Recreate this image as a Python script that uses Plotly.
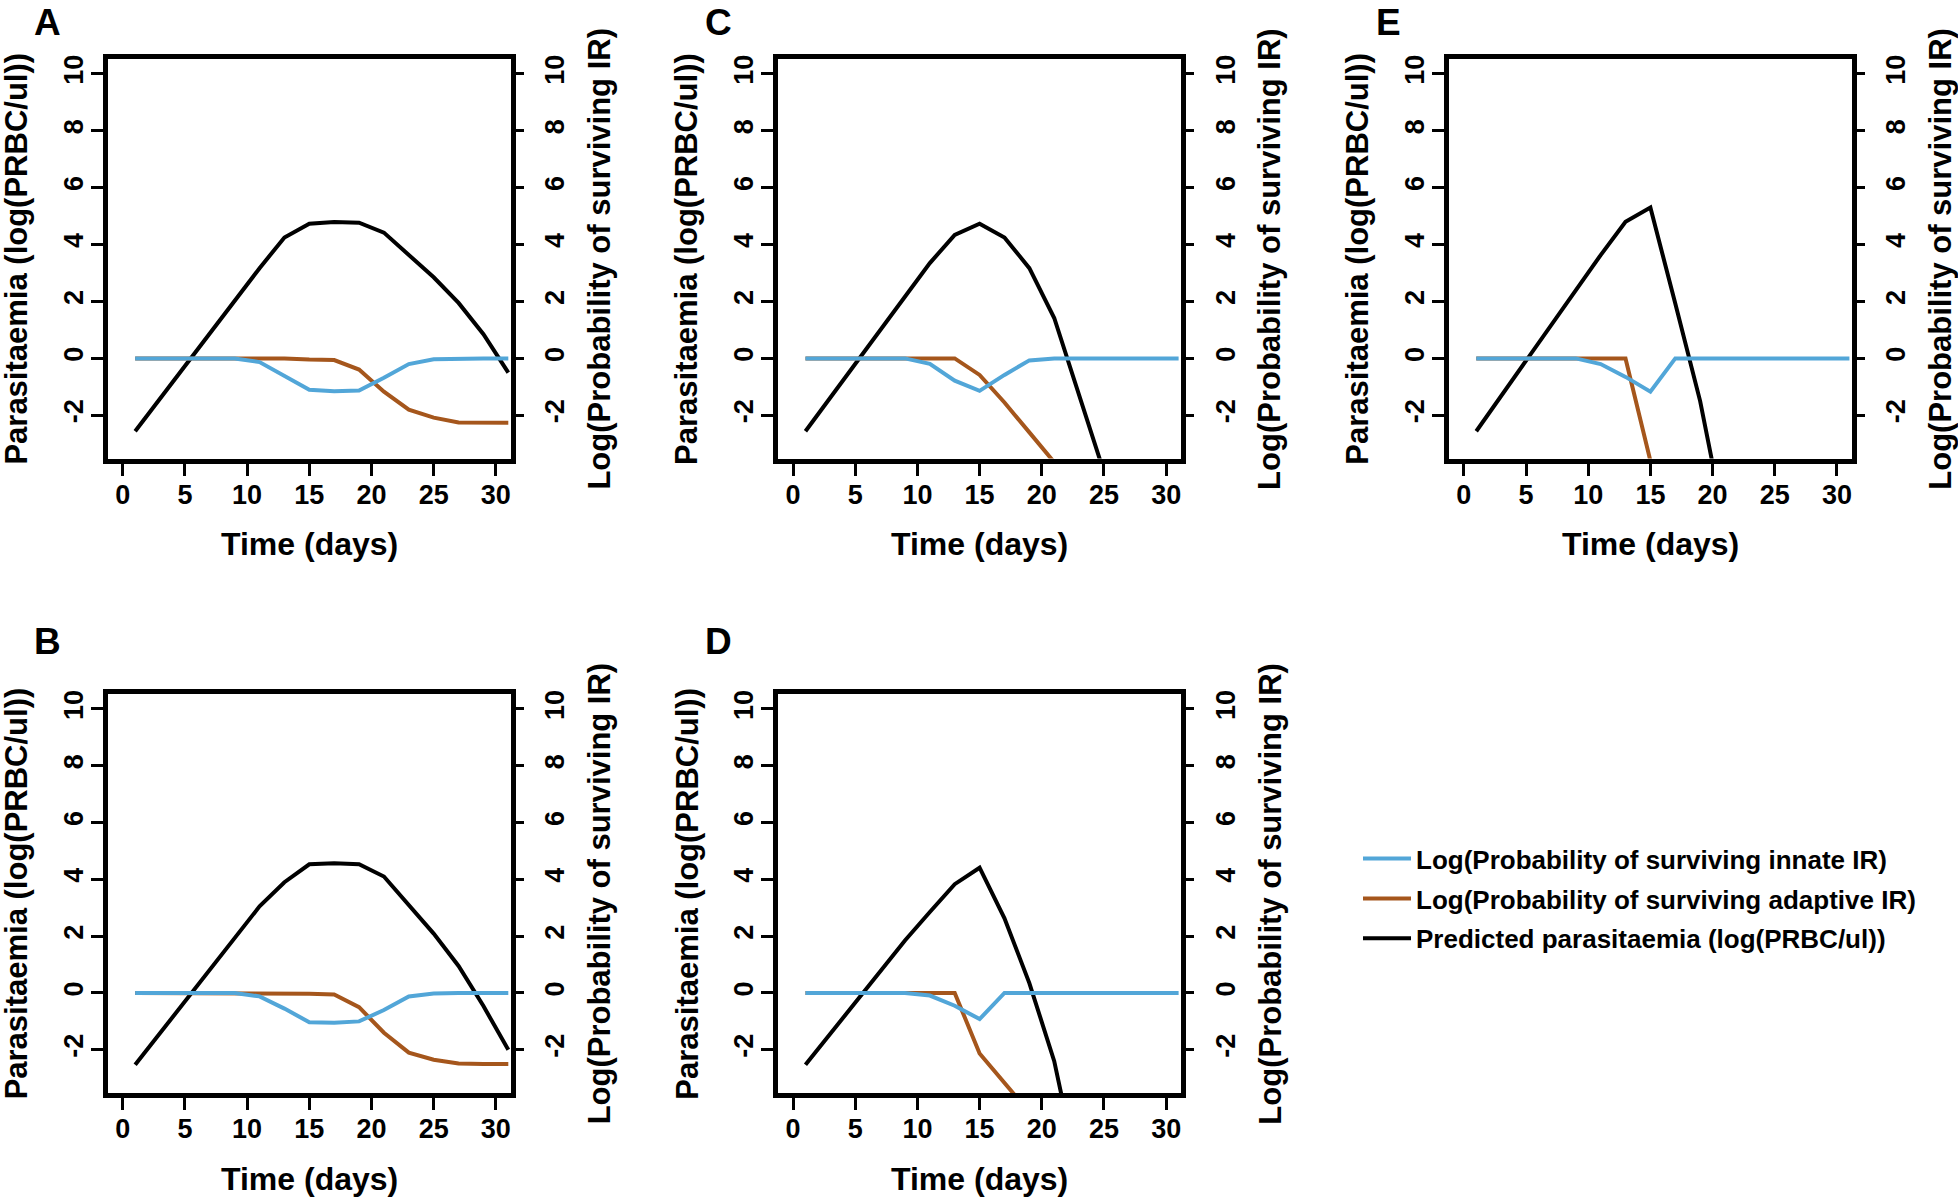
import plotly.graph_objects as go

W, H = 1958, 1200
FONT = "Liberation Sans, Arial, sans-serif"

days = [1, 3, 5, 7, 9, 11, 13, 15, 17, 19, 21, 23, 25, 27, 29, 31]
x_ticks = [0, 5, 10, 15, 20, 25, 30]
y_ticks = [-2, 0, 2, 4, 6, 8, 10]
y_tick_text = ["-2", "0", "2", "4", "6", "8", "10"]

legend_names = ["Log(Probability of surviving innate IR)",
                "Log(Probability of surviving adaptive IR)",
                "Predicted parasitaemia (log(PRBC/ul))"]

# panel A
a_parasit = [-2.56, -1.41, -0.27, 0.88, 2.02, 3.17, 4.25, 4.73, 4.79, 4.77, 4.42, 3.65, 2.85, 1.95, 0.85, -0.5]
a_innate = [0, 0, 0, 0, 0, -0.13, -0.63, -1.1, -1.15, -1.13, -0.68, -0.2, -0.03, 0, 0, 0]
a_adaptive = [0, 0, 0, 0, 0, 0, 0, -0.04, -0.06, -0.39, -1.17, -1.8, -2.08, -2.25, -2.26, -2.26]

# panel B
b_parasit = [-2.53, -1.41, -0.28, 0.84, 1.97, 3.05, 3.9, 4.53, 4.57, 4.53, 4.1, 3.1, 2.09, 0.95, -0.46, -2.0]
b_innate = [0, 0, 0, 0, 0, -0.12, -0.55, -1.03, -1.05, -1.0, -0.6, -0.12, -0.02, 0, 0, 0]
b_adaptive = [0, 0, 0, 0, 0, 0, 0, -0.03, -0.05, -0.5, -1.4, -2.1, -2.35, -2.48, -2.5, -2.5]

# panel C
c_parasit = [-2.56, -1.37, -0.18, 1.0, 2.2, 3.35, 4.34, 4.73, 4.25, 3.17, 1.42, -1.3, -4.0]
c_innate = [0, 0, 0, 0, 0, -0.19, -0.78, -1.14, -0.58, -0.07, 0, 0, 0, 0, 0, 0]
c_adaptive = [0, 0, 0, 0, 0, 0, 0, -0.58, -1.55, -2.6, -3.65]

# panel D
d_parasit = [-2.53, -1.43, -0.33, 0.77, 1.85, 2.85, 3.83, 4.41, 2.63, 0.35, -2.4, -6.5]
d_innate = [0, 0, 0, 0, 0, -0.09, -0.45, -0.92, 0, 0, 0, 0, 0, 0, 0, 0]
d_adaptive = [0, 0, 0, 0, 0, 0, 0, -2.13, -3.15, -4.2]

# panel E
e_parasit = [-2.56, -1.32, -0.09, 1.15, 2.39, 3.63, 4.8, 5.3, 1.93, -1.5, -5.9]
e_innate = [0, 0, 0, 0, 0, -0.2, -0.65, -1.17, 0, 0, 0, 0, 0, 0, 0, 0]
e_adaptive = [0, 0, 0, 0, 0, 0, 0, -3.6]

BLUE = "#52a6d8"
BROWN = "#a5561c"

# letter, box left/right/top/bottom in pixels, series
panels = [
    ("A", 107.8, 510.8, 55.2, 456.1, a_parasit, a_innate, a_adaptive),
    ("B", 107.8, 510.8, 692.5, 1092.6, b_parasit, b_innate, b_adaptive),
    ("C", 778.1, 1181.1, 55.2, 456.1, c_parasit, c_innate, c_adaptive),
    ("D", 778.1, 1181.1, 692.5, 1092.6, d_parasit, d_innate, d_adaptive),
    ("E", 1448.9, 1851.9, 55.2, 456.1, e_parasit, e_innate, e_adaptive),
]


def fx(p):
    return p / W


def fy(p):
    return 1 - p / H


def note(text, x, y, size, angle=0):
    return dict(text=text, x=fx(x), y=fy(y), xref="paper", yref="paper",
                xanchor="center", yanchor="middle", textangle=angle, showarrow=False,
                font=dict(family=FONT, size=size, color="black", weight="bold"))


fig = go.Figure()
layout = {}
annotations = []
tick_font = dict(family=FONT, size=27, color="black", weight="bold")

for i, (letter, left, right, top, bottom, parasit, innate, adaptive) in enumerate(panels):
    n = i + 1
    xs = "" if n == 1 else str(n)
    first = n == 1

    fig.add_trace(go.Scatter(x=days[:len(parasit)], y=parasit, mode="lines",
                             line=dict(color="black", width=4),
                             name=legend_names[2], legendgroup="par", legendrank=3,
                             showlegend=first, xaxis="x" + xs, yaxis="y" + xs))
    fig.add_trace(go.Scatter(x=days[:len(adaptive)], y=adaptive, mode="lines",
                             line=dict(color=BROWN, width=4),
                             name=legend_names[1], legendgroup="ada", legendrank=2,
                             showlegend=first, xaxis="x" + xs, yaxis="y" + str(n + 5)))
    fig.add_trace(go.Scatter(x=days[:len(innate)], y=innate, mode="lines",
                             line=dict(color=BLUE, width=4),
                             name=legend_names[0], legendgroup="inn", legendrank=1,
                             showlegend=first, xaxis="x" + xs, yaxis="y" + str(n + 5)))

    layout["xaxis" + xs] = dict(
        domain=[fx(left), fx(right)], anchor="y" + xs, range=[-1.2, 31.2],
        tickvals=x_ticks, ticks="outside", ticklen=12, tickwidth=3, tickcolor="black",
        showline=True, mirror=True, linewidth=5, linecolor="black",
        showgrid=False, zeroline=False, tickfont=tick_font, ticklabelstandoff=-4)
    layout["yaxis" + xs] = dict(
        domain=[fy(bottom), fy(top)], anchor="x" + xs, range=[-3.52, 10.52],
        tickvals=y_ticks, ticktext=y_tick_text, tickangle=-90, ticks="outside",
        ticklen=12, tickwidth=3, tickcolor="black", showline=True, mirror=True,
        linewidth=5, linecolor="black", showgrid=False, zeroline=False,
        tickfont=tick_font, ticklabelstandoff=-3)
    layout["yaxis" + str(n + 5)] = dict(
        overlaying="y" + xs, side="right", anchor="x" + xs, range=[-3.52, 10.52],
        tickvals=y_ticks, ticktext=y_tick_text, tickangle=-90, ticks="outside",
        ticklen=12, tickwidth=3, tickcolor="black", showline=False, showgrid=False,
        zeroline=False, tickfont=tick_font, ticklabelstandoff=8)

    mid = (top + bottom) / 2
    letter_y = top - 37 if top < 300 else top - 53
    annotations.append(note(letter, left - 60, letter_y, 37))
    annotations.append(note("Parasitaemia (log(PRBC/ul))", left - 91, mid, 31, -90))
    annotations.append(note("Log(Probability of surviving IR)", right + 89, mid, 31, -90))
    annotations.append(note("Time (days)", (left + right) / 2, bottom + 86, 32))

fig.update_layout(
    **layout,
    annotations=annotations,
    width=W, height=H,
    margin=dict(l=0, r=0, t=0, b=0),
    paper_bgcolor="white", plot_bgcolor="white",
    showlegend=True,
    legend=dict(x=fx(1358), y=fy(834), xanchor="left", yanchor="top",
                font=dict(family=FONT, size=26, color="black", weight="bold"),
                tracegroupgap=3, itemwidth=48, bgcolor="rgba(0,0,0,0)"),
)

fig.write_html("out.html", config={"displayModeBar": False},
               post_script="document.body.style.margin='0';document.body.style.overflow='hidden';")
